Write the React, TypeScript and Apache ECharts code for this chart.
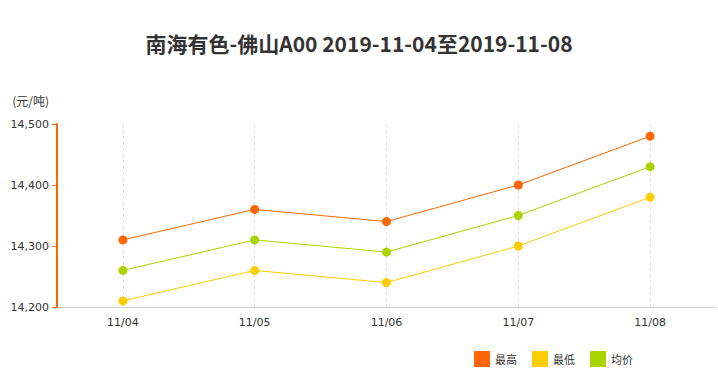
import React, { useEffect, useRef } from "react";
import * as echarts from "echarts";

const categories = ["11/04", "11/05", "11/06", "11/07", "11/08"];
const highValues = [14310, 14360, 14340, 14400, 14480];
const lowValues = [14210, 14260, 14240, 14300, 14380];
const avgValues = [14260, 14310, 14290, 14350, 14430];
const seriesNames = ["最高", "最低", "均价"];
const seriesColors = ["#ff6600", "#ffcc00", "#aad400"];

export default function App() {
  const ref = useRef<HTMLDivElement>(null);
  useEffect(() => {
    if (!ref.current) return;
    const chart = echarts.init(ref.current, undefined, { renderer: "svg" });
    const data = [highValues, lowValues, avgValues];
    chart.setOption({
      animation: false,
      backgroundColor: "#ffffff",
      title: {
        text: "南海有色-佛山A00 2019-11-04至2019-11-08",
        left: "center",
        top: 27,
        textStyle: {
          fontFamily: "Noto Sans CJK SC",
          fontSize: 21,
          fontWeight: "bold",
          color: "#333333",
        },
      },
      legend: {
        right: 80,
        bottom: 6,
        itemWidth: 16,
        itemHeight: 16,
        itemGap: 15,
        icon: "rect",
        textStyle: { fontFamily: "Noto Sans CJK SC", fontSize: 11, color: "#333" },
        data: seriesNames,
      },
      grid: { left: 57, right: 2, top: 124, bottom: 71, containLabel: false },
      xAxis: {
        type: "category",
        data: categories,
        boundaryGap: true,
        axisLine: { lineStyle: { color: "#cccccc" } },
        axisTick: { alignWithLabel: true, lineStyle: { color: "#cccccc" }, length: 5 },
        axisLabel: { color: "#333", fontSize: 11, fontFamily: "DejaVu Sans", margin: 10 },
        splitLine: { show: false },
      },
      yAxis: {
        type: "value",
        min: 14200,
        max: 14500,
        interval: 100,
        name: "(元/吨)",
        nameLocation: "end",
        nameGap: 18,
        nameTextStyle: { fontFamily: "Noto Sans CJK SC", fontSize: 12, color: "#333", align: "right", padding: [0, 8, 0, 0] },
        axisLine: { show: true, lineStyle: { color: "#ff6600", width: 2 } },
        axisTick: { show: true, length: 5, lineStyle: { color: "#ff6600" } },
        axisLabel: {
          color: "#333",
          fontSize: 11,
          fontFamily: "DejaVu Sans",
          margin: 8,
          formatter: (v: number) => v.toLocaleString("en-US"),
        },
        splitLine: { show: false },
      },
      series: seriesNames.map((n, i) => ({
        name: n,
        type: "line",
        data: data[i],
        symbol: "circle",
        symbolSize: 9,
        z: 3,
        itemStyle: { color: seriesColors[i] },
        lineStyle: { color: seriesColors[i], width: 1 },
        markLine:
          i === 0
            ? {
                silent: true,
                symbol: "none",
                z: 1,
                label: { show: false },
                lineStyle: { color: "#e0e0e0", type: [3, 3], width: 1 },
                data: categories.map((c) => ({ xAxis: c })),
              }
            : undefined,
      })),
    });
    return () => chart.dispose();
  }, []);
  return <div ref={ref} style={{ width: 718, height: 378, position: "absolute", left: 0, top: 0 }} />;
}
